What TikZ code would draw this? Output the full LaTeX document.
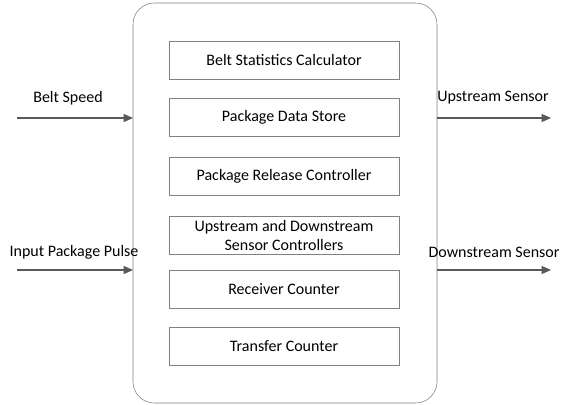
\documentclass[tikz,border=0pt]{standalone}
\usepackage{fontspec}
\setmainfont{Carlito}
\usetikzlibrary{arrows.meta}

\definecolor{edgegray}{RGB}{128,128,128}
\definecolor{arrowgray}{RGB}{89,89,89}

\tikzset{
    part/.style = {draw=edgegray, minimum width=172.5pt, minimum height=28.5pt, inner sep=1pt, align=center, font=\fontsize{12}{14}\selectfont},
    signal/.style = {-{Triangle[length=7pt,width=6pt]}, arrowgray, line width=0.9pt},
    lbl/.style = {font=\fontsize{12}{14}\selectfont}
}

\begin{document}
\begin{tikzpicture}[x=0.75pt, y=-0.75pt]
        \useasboundingbox (0,0) rectangle (561,404);

        \draw[edgegray, rounded corners=16pt] (133,3) rectangle (437,403);
        \coordinate (inL1) at (133,118);
        \coordinate (inL2) at (133,270);
        \coordinate (outR1) at (437,118);
        \coordinate (outR2) at (437,270);

        \node[part] (stats) at (284,60) {Belt Statistics Calculator};
        \node[part] (store) at (284,117) {Package Data Store};
        \node[part] (release) at (284,176) {Package Release Controller};
        \node[part, font=\fontsize{12}{14.5}\selectfont] (sensors) at (284,235.5) {Upstream and Downstream\\Sensor Controllers};
        \node[part] (receiver) at (284,289) {Receiver Counter};
        \node[part] (transfer) at (284,346.5) {Transfer Counter};

        \coordinate (beltin) at (17,118);
        \coordinate (pulsein) at (17,270);
        \coordinate (upout) at (551,118);
        \coordinate (downout) at (551,270);

        \draw[signal] (beltin) -- (inL1);
        \draw[signal] (pulsein) -- (inL2);
        \draw[signal] (outR1) -- (upout);
        \draw[signal] (outR2) -- (downout);

        \node[lbl] (beltlbl) at (68,98) {Belt Speed};
        \node[lbl] (pulselbl) at (74,252) {Input Package Pulse};
        \node[lbl] (uplbl) at (493,98) {Upstream Sensor};
        \node[lbl] (downlbl) at (494,252) {Downstream Sensor};

    \end{tikzpicture}
\end{document}
